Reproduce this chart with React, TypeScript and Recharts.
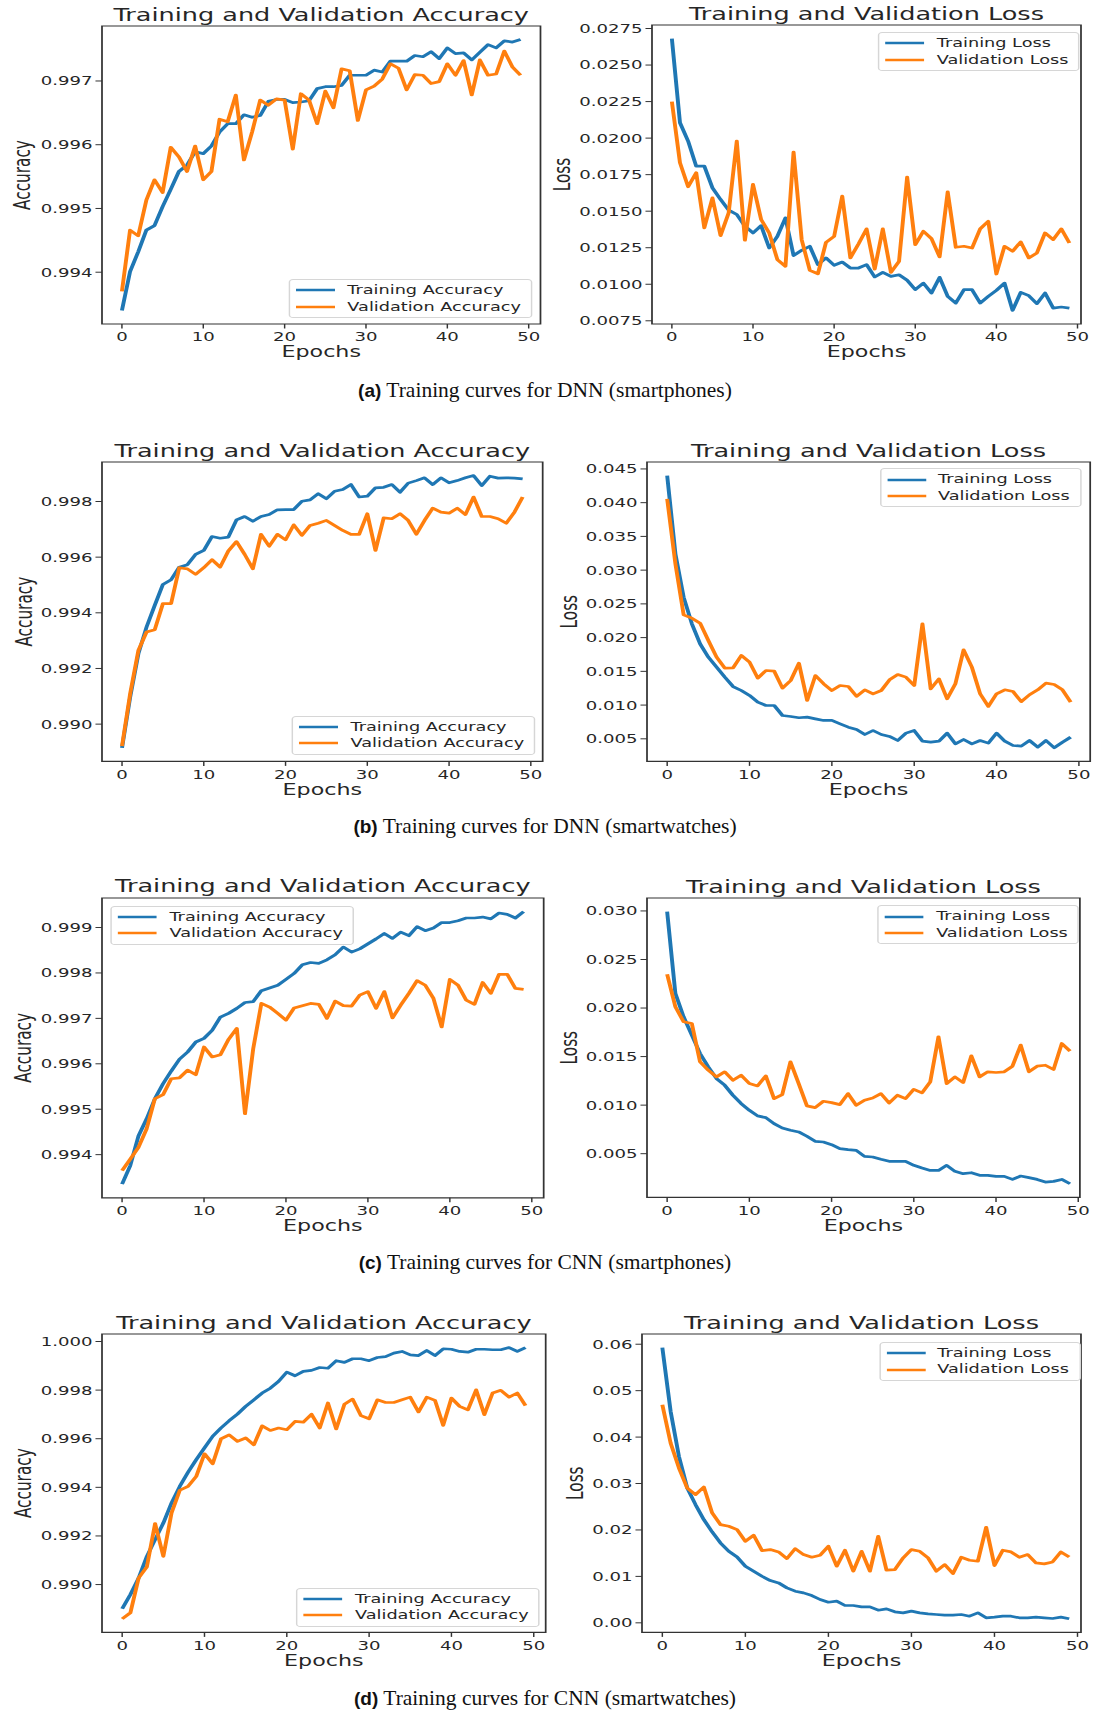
import React from "react";
import { LineChart, Line, XAxis, YAxis, ReferenceArea, Legend } from "recharts";

// The source figure is horizontally stretched, so every panel is drawn at natural
// width and scaled in x.
const S = 1.45;
const BLUE = "#1f77b4";
const ORANGE = "#ff7f0e";
const INK = "#262626";
const FONT = "'DejaVu Sans', Verdana, sans-serif";
const PAD_L = 112;
const PAD_R = 12;
const PAD_T = 30;
const PAD_B = 50;

const xTicks = [0, 10, 20, 30, 40, 50];

// (a) DNN, smartphones
const dnnPhoneAccTrain = [
  0.9934, 0.99401, 0.99432, 0.99466, 0.99473, 0.99503, 0.9953, 0.99558, 0.99568, 0.99589,
  0.99586, 0.99598, 0.9962, 0.99633, 0.99633, 0.99647, 0.99643, 0.99646, 0.99668, 0.99671,
  0.99671, 0.99666, 0.99667, 0.99669, 0.99688, 0.99691, 0.99691, 0.99693, 0.99709, 0.99709,
  0.99709, 0.99717, 0.99714, 0.99731, 0.99731, 0.99731, 0.9974, 0.99738, 0.99746, 0.99735,
  0.99752, 0.99743, 0.99744, 0.99733, 0.99745, 0.99757, 0.99752, 0.99763, 0.99761, 0.99765
];
const dnnPhoneAccVal = [
  0.9937, 0.99466, 0.99457, 0.99513, 0.99545, 0.99525, 0.99596, 0.99581, 0.99558, 0.99598,
  0.99545, 0.99558, 0.9964, 0.99636, 0.99678, 0.99576, 0.9962, 0.9967, 0.99662, 0.99672,
  0.9967, 0.99593, 0.9968, 0.9967, 0.99633, 0.99684, 0.99658, 0.99719, 0.99716, 0.99638,
  0.99686, 0.99692, 0.99703, 0.99727, 0.9972, 0.99686, 0.9971, 0.99709, 0.99696, 0.99699,
  0.99727, 0.99709, 0.99732, 0.99678, 0.99733, 0.99709, 0.99711, 0.99747, 0.99722, 0.99709
];
const dnnPhoneLossTrain = [
  0.02681, 0.02105, 0.0198, 0.01808, 0.01808, 0.0166, 0.0158, 0.01507, 0.01477, 0.01397,
  0.01351, 0.01401, 0.01248, 0.01328, 0.01454, 0.01196, 0.01232, 0.0126, 0.01134, 0.0118,
  0.0113, 0.01152, 0.01111, 0.01111, 0.01134, 0.0105, 0.01081, 0.01054, 0.01065, 0.01027,
  0.00963, 0.01008, 0.0094, 0.01047, 0.00917, 0.00871, 0.00963, 0.00963, 0.00871, 0.00917,
  0.00958, 0.01008, 0.00821, 0.00945, 0.00922, 0.00867, 0.0094, 0.00837, 0.00844, 0.00837
];
const dnnPhoneLossVal = [
  0.0225, 0.01831, 0.01667, 0.01763, 0.01386, 0.01591, 0.01333, 0.01488, 0.0198, 0.01301,
  0.01683, 0.01443, 0.01351, 0.01169, 0.01123, 0.01904, 0.01305, 0.01095, 0.01072, 0.01287,
  0.01328, 0.01603, 0.0118, 0.01276, 0.01379, 0.01104, 0.01379, 0.01081, 0.01157, 0.01733,
  0.01271, 0.01363, 0.01312, 0.01187, 0.01632, 0.01253, 0.0126, 0.01248, 0.01379, 0.01431,
  0.0107, 0.0126, 0.01226, 0.0129, 0.0118, 0.01214, 0.01351, 0.01305, 0.01379, 0.01283
];

// (b) DNN, smartwatches
const dnnWatchAccTrain = [
  0.98915, 0.99098, 0.99253, 0.99349, 0.99427, 0.99502, 0.99519, 0.99564, 0.99573, 0.9961,
  0.99624, 0.99674, 0.99668, 0.99672, 0.99734, 0.99746, 0.99729, 0.99746, 0.99753, 0.9977,
  0.99771, 0.99771, 0.99801, 0.99806, 0.99828, 0.9981, 0.99837, 0.99843, 0.99861, 0.99816,
  0.99819, 0.99849, 0.99851, 0.99861, 0.99833, 0.99866, 0.99875, 0.99885, 0.99861, 0.99885,
  0.99867, 0.99875, 0.99885, 0.99893, 0.99857, 0.99891, 0.99884, 0.99885, 0.99884, 0.99881
];
const dnnWatchAccVal = [
  0.98921, 0.9911, 0.99265, 0.99331, 0.99339, 0.99433, 0.99433, 0.99562, 0.99558, 0.99538,
  0.99562, 0.99591, 0.99564, 0.99622, 0.99656, 0.9961, 0.99558, 0.99682, 0.99639, 0.99682,
  0.99662, 0.99716, 0.99678, 0.99714, 0.99722, 0.99732, 0.99714, 0.99696, 0.99682, 0.99682,
  0.99756, 0.99624, 0.99741, 0.99738, 0.99756, 0.99732, 0.99682, 0.99732, 0.99776, 0.99762,
  0.99758, 0.99776, 0.99753, 0.99816, 0.99746, 0.99746, 0.99738, 0.99722, 0.99762, 0.99816
];
const dnnWatchLossTrain = [
  0.04401, 0.03241, 0.02599, 0.02204, 0.01907, 0.0171, 0.01562, 0.01414, 0.01275, 0.01216,
  0.01142, 0.01043, 0.00994, 0.00994, 0.00846, 0.00831, 0.00812, 0.00821, 0.00796, 0.00772,
  0.00772, 0.00722, 0.00673, 0.00638, 0.00564, 0.00623, 0.00564, 0.00535, 0.00475, 0.00584,
  0.00623, 0.00465, 0.0045, 0.00465, 0.00584, 0.00426, 0.0049, 0.00426, 0.00475, 0.00436,
  0.00584, 0.00465, 0.00401, 0.00391, 0.00475, 0.00377, 0.00475, 0.00367, 0.0045, 0.00525
];
const dnnWatchLossVal = [
  0.04056, 0.03093, 0.02337, 0.02288, 0.02214, 0.01957, 0.0171, 0.01547, 0.01552, 0.01735,
  0.01636, 0.01399, 0.01512, 0.01502, 0.01251, 0.01364, 0.01621, 0.01068, 0.01438, 0.01315,
  0.01216, 0.0129, 0.01275, 0.01128, 0.01226, 0.01167, 0.01216, 0.01374, 0.01453, 0.01414,
  0.0129, 0.02204, 0.01241, 0.01389, 0.01093, 0.01315, 0.01819, 0.01562, 0.01167, 0.0098,
  0.01167, 0.01226, 0.01201, 0.0105, 0.01153, 0.01226, 0.01325, 0.01305, 0.01226, 0.01043
];

// (c) CNN, smartphones
const cnnPhoneAccTrain = [
  0.99335, 0.99376, 0.99441, 0.99479, 0.99523, 0.99556, 0.99584, 0.9961, 0.99626, 0.99648,
  0.99656, 0.99674, 0.99703, 0.99711, 0.99722, 0.99735, 0.99737, 0.99761, 0.99767, 0.99773,
  0.99786, 0.99799, 0.99818, 0.99823, 0.99821, 0.99829, 0.9984, 0.99857, 0.99846, 0.99853,
  0.99864, 0.99875, 0.99887, 0.99876, 0.9989, 0.99882, 0.99902, 0.99893, 0.99899, 0.99911,
  0.99911, 0.99915, 0.99921, 0.99921, 0.99923, 0.99919, 0.99932, 0.99929, 0.99921, 0.99935
];
const cnnPhoneAccVal = [
  0.99365, 0.9939, 0.99416, 0.99457, 0.99523, 0.99532, 0.99567, 0.99569, 0.99586, 0.99576,
  0.99637, 0.99615, 0.9962, 0.99654, 0.99678, 0.9949, 0.99633, 0.99733, 0.99725, 0.99711,
  0.99696, 0.99723, 0.99728, 0.99733, 0.99731, 0.997, 0.99738, 0.99728, 0.99727, 0.99751,
  0.99759, 0.99722, 0.99759, 0.99701, 0.99729, 0.99755, 0.99783, 0.99773, 0.99744, 0.99681,
  0.99786, 0.99773, 0.9974, 0.99731, 0.99779, 0.99755, 0.99797, 0.99797, 0.99766, 0.99764
];
const cnnPhoneLossTrain = [
  0.02993, 0.02151, 0.0191, 0.01721, 0.01532, 0.01394, 0.01274, 0.01205, 0.01102, 0.01016,
  0.00947, 0.00889, 0.00871, 0.0081, 0.00765, 0.00741, 0.00724, 0.00679, 0.00627, 0.0062,
  0.00593, 0.00552, 0.00541, 0.00534, 0.00472, 0.00466, 0.00442, 0.00421, 0.00421, 0.00421,
  0.0038, 0.00352, 0.00328, 0.00328, 0.0038, 0.00318, 0.00294, 0.00304, 0.00277, 0.00277,
  0.00266, 0.00266, 0.00235, 0.0027, 0.00253, 0.00235, 0.00208, 0.00215, 0.00235, 0.0019
];
const cnnPhoneLossVal = [
  0.02347, 0.02013, 0.01858, 0.01841, 0.01446, 0.0136, 0.01291, 0.01343, 0.01256, 0.01308,
  0.01222, 0.01198, 0.01301, 0.01067, 0.01109, 0.01446, 0.01222, 0.00992, 0.00974, 0.0104,
  0.01026, 0.01005, 0.01119, 0.00998, 0.0105, 0.01074, 0.01119, 0.01022, 0.01102, 0.01067,
  0.01163, 0.01126, 0.01239, 0.01704, 0.01222, 0.01291, 0.01232, 0.01508, 0.01291, 0.01343,
  0.01336, 0.01343, 0.01401, 0.01618, 0.01343, 0.01401, 0.01411, 0.01367, 0.01635, 0.01556
];

// (d) CNN, smartwatches
const cnnWatchAccTrain = [
  0.989, 0.98959, 0.99027, 0.99116, 0.99185, 0.99253, 0.99336, 0.99404, 0.99462, 0.99514,
  0.99562, 0.9961, 0.99644, 0.99674, 0.99701, 0.99733, 0.9976, 0.99788, 0.99808, 0.99836,
  0.99874, 0.99859, 0.99877, 0.99881, 0.99893, 0.9989, 0.99921, 0.99914, 0.99929, 0.99929,
  0.99921, 0.99934, 0.99938, 0.99952, 0.99959, 0.99945, 0.99942, 0.99963, 0.99942, 0.9997,
  0.99968, 0.99959, 0.99956, 0.99968, 0.99968, 0.99966, 0.99966, 0.99975, 0.99959, 0.99975
];
const cnnWatchAccVal = [
  0.98859, 0.98884, 0.99027, 0.99073, 0.99251, 0.99116, 0.99295, 0.99388, 0.99404, 0.99445,
  0.99538, 0.99497, 0.99599, 0.99616, 0.99589, 0.99603, 0.99575, 0.99653, 0.99634, 0.99644,
  0.99637, 0.99671, 0.99668, 0.99701, 0.99644, 0.99747, 0.9964, 0.99742, 0.99763, 0.99695,
  0.99682, 0.9976, 0.99749, 0.99749, 0.9976, 0.99771, 0.9971, 0.99771, 0.99758, 0.99655,
  0.99767, 0.99733, 0.99719, 0.99801, 0.99699, 0.99788, 0.99799, 0.99771, 0.99788, 0.99736
];
const cnnWatchLossTrain = [
  0.05928, 0.04552, 0.03584, 0.02903, 0.02545, 0.02222, 0.01957, 0.0172, 0.01541, 0.01419,
  0.01219, 0.01111, 0.01004, 0.0091, 0.0086, 0.00753, 0.00681, 0.00645, 0.00588, 0.00502,
  0.00444, 0.00466, 0.00373, 0.00373, 0.00344, 0.00344, 0.00272, 0.00301, 0.00237, 0.00215,
  0.00251, 0.00215, 0.00194, 0.00179, 0.00165, 0.00165, 0.00179, 0.00143, 0.00215, 0.00108,
  0.00122, 0.00143, 0.00143, 0.00108, 0.00108, 0.00122, 0.00108, 0.00093, 0.00122, 0.00086
];
const cnnWatchLossVal = [
  0.04695, 0.03871, 0.03333, 0.02903, 0.0276, 0.02925, 0.02366, 0.02115, 0.02079, 0.02007,
  0.01756, 0.01885, 0.01556, 0.01577, 0.01527, 0.01384, 0.01599, 0.0147, 0.01412, 0.01455,
  0.01649, 0.01219, 0.01563, 0.01111, 0.01541, 0.01111, 0.01864, 0.01133, 0.01147, 0.01398,
  0.01577, 0.01541, 0.01398, 0.01111, 0.01254, 0.01061, 0.01412, 0.01348, 0.01326, 0.02057,
  0.01233, 0.01563, 0.01527, 0.01412, 0.0147, 0.0129, 0.01269, 0.01312, 0.01527, 0.01419
];

// y tick labels
const dnnPhoneAccTicks = [0.994, 0.995, 0.996, 0.997];
const dnnPhoneLossTicks = [0.0075, 0.01, 0.0125, 0.015, 0.0175, 0.02, 0.0225, 0.025, 0.0275];
const dnnWatchAccTicks = [0.99, 0.992, 0.994, 0.996, 0.998];
const dnnWatchLossTicks = [0.005, 0.01, 0.015, 0.02, 0.025, 0.03, 0.035, 0.04, 0.045];
const cnnPhoneAccTicks = [0.994, 0.995, 0.996, 0.997, 0.998, 0.999];
const cnnPhoneLossTicks = [0.005, 0.01, 0.015, 0.02, 0.025, 0.03];
const cnnWatchAccTicks = [0.99, 0.992, 0.994, 0.996, 0.998, 1.0];
const cnnWatchLossTicks = [0.0, 0.01, 0.02, 0.03, 0.04, 0.05, 0.06];

const captionTags = ["(a)", "(b)", "(c)", "(d)"];
const captionTexts = [
  "Training curves for DNN (smartphones)",
  "Training curves for DNN (smartwatches)",
  "Training curves for CNN (smartphones)",
  "Training curves for CNN (smartwatches)"
];

const labels = {
  acc: {
    title: "Training and Validation Accuracy",
    axis: "Accuracy",
    train: "Training Accuracy",
    val: "Validation Accuracy"
  },
  loss: {
    title: "Training and Validation Loss",
    axis: "Loss",
    train: "Training Loss",
    val: "Validation Loss"
  }
};

type Corner = { v: "top" | "bottom"; h: "left" | "right"; dx: number; dy: number };

interface PanelSpec {
  box: [number, number, number, number];
  xMax: number;
  kind: "acc" | "loss";
  train: number[];
  val: number[];
  ticks: number[];
  decimals: number;
  legend: Corner;
  yLabelGap: number;
}

const panels: PanelSpec[] = [
  { box: [101.5, 540, 26, 324], xMax: 51.45, kind: "acc", train: dnnPhoneAccTrain, val: dnnPhoneAccVal, ticks: dnnPhoneAccTicks, decimals: 3, legend: { v: "bottom", h: "right", dx: 8, dy: 6 }, yLabelGap: 79.5 },
  { box: [652, 1081, 25, 324], xMax: 50.43, kind: "loss", train: dnnPhoneLossTrain, val: dnnPhoneLossVal, ticks: dnnPhoneLossTicks, decimals: 4, legend: { v: "top", h: "right", dx: 1, dy: 7 }, yLabelGap: 90 },
  { box: [101.8, 542.5, 462.3, 761.7], xMax: 51.45, kind: "acc", train: dnnWatchAccTrain, val: dnnWatchAccVal, ticks: dnnWatchAccTicks, decimals: 3, legend: { v: "bottom", h: "right", dx: 7, dy: 7 }, yLabelGap: 78 },
  { box: [646.8, 1090, 462.3, 761.7], xMax: 51.37, kind: "loss", train: dnnWatchLossTrain, val: dnnWatchLossVal, ticks: dnnWatchLossTicks, decimals: 3, legend: { v: "top", h: "right", dx: 9, dy: 6 }, yLabelGap: 78 },
  { box: [101.8, 543.5, 897.5, 1197.3], xMax: 51.45, kind: "acc", train: cnnPhoneAccTrain, val: cnnPhoneAccVal, ticks: cnnPhoneAccTicks, decimals: 3, legend: { v: "top", h: "left", dx: 9, dy: 8 }, yLabelGap: 79 },
  { box: [646.8, 1079.7, 898.3, 1197.7], xMax: 50.2, kind: "loss", train: cnnPhoneLossTrain, val: cnnPhoneLossVal, ticks: cnnPhoneLossTicks, decimals: 3, legend: { v: "top", h: "right", dx: 0.5, dy: 7 }, yLabelGap: 78 },
  { box: [101.8, 545.5, 1334.3, 1632.7], xMax: 51.45, kind: "acc", train: cnnWatchAccTrain, val: cnnWatchAccVal, ticks: cnnWatchAccTicks, decimals: 3, legend: { v: "bottom", h: "right", dx: 5.5, dy: 6 }, yLabelGap: 79 },
  { box: [641.5, 1080.5, 1334.3, 1632.7], xMax: 50.42, kind: "loss", train: cnnWatchLossTrain, val: cnnWatchLossVal, ticks: cnnWatchLossTicks, decimals: 2, legend: { v: "top", h: "right", dx: 0.5, dy: 7.5 }, yLabelGap: 66.5 }
];

const captionCenters = [390, 826, 1262, 1698];

// matplotlib-style auto range: data span plus 5% on each side
const autoRange = (a: number[], b: number[]): [number, number] => {
  const lo = Math.min(...a, ...b);
  const hi = Math.max(...a, ...b);
  const m = (hi - lo) * 0.05;
  return [lo - m, hi + m];
};

const renderLegend = (props: any) => {
  const { payload } = props;
  return (
    <div
      style={{
        background: "rgba(255,255,255,0.85)",
        border: "1px solid #d6d6d6",
        borderRadius: 3,
        padding: "2px 7px 2px 4px",
        fontSize: 12.2,
        color: INK,
        whiteSpace: "nowrap"
      }}
    >
      {(payload || []).map((entry: any) => (
        <div key={entry.value} style={{ display: "flex", alignItems: "center", height: 16.5 }}>
          <svg width={27} height={6} style={{ display: "block" }}>
            <line x1={0} y1={3} x2={27} y2={3} stroke={entry.color} strokeWidth={2.7} />
          </svg>
          <span style={{ marginLeft: 8.3, lineHeight: "16.5px" }}>{entry.value}</span>
        </div>
      ))}
    </div>
  );
};

function Panel({ spec }: { spec: PanelSpec }) {
  const [L, R, T, B] = spec.box;
  const natW = (R - L + PAD_L + PAD_R) / S;
  const natH = B - T + PAD_T + PAD_B;
  const plotW = (R - L) / S;
  const text = labels[spec.kind];
  const yDomain = autoRange(spec.train, spec.val);
  const xMin = -2.45;
  const rows = spec.train.map((v, i) => ({ epoch: i, train: v, val: spec.val[i] }));

  const lg = spec.legend;
  const legendPos: React.CSSProperties = {};
  if (lg.h === "right") legendPos.right = (PAD_R + lg.dx) / S;
  else legendPos.left = (PAD_L + lg.dx) / S;
  if (lg.v === "top") legendPos.top = PAD_T + lg.dy;
  else legendPos.bottom = PAD_B + lg.dy;

  return (
    <div
      style={{
        position: "absolute",
        left: L - PAD_L,
        top: T - PAD_T,
        width: natW,
        height: natH,
        transform: `scaleX(${S})`,
        transformOrigin: "0 0"
      }}
    >
      <div
        style={{
          position: "absolute",
          left: PAD_L / S,
          width: plotW,
          top: PAD_T - 21.5,
          textAlign: "center",
          fontSize: 17.6,
          lineHeight: "20px",
          color: INK,
          whiteSpace: "nowrap"
        }}
      >
        {text.title}
      </div>
      <LineChart
        width={natW}
        height={natH}
        data={rows}
        margin={{ top: PAD_T, right: PAD_R / S, bottom: 0, left: 0 }}
      >
        <XAxis
          dataKey="epoch"
          type="number"
          domain={[xMin, spec.xMax]}
          ticks={xTicks}
          interval={0}
          allowDataOverflow
          height={PAD_B}
          axisLine={false}
          tickSize={4.5}
          tickMargin={4}
          tickLine={{ stroke: "#333" }}
          tick={{ fontSize: 12.5, fill: INK }}
          label={{ value: "Epochs", position: "insideBottom", offset: PAD_B - 33.5, fontSize: 15.3, fill: INK }}
        />
        <YAxis
          type="number"
          domain={yDomain}
          ticks={spec.ticks}
          interval={0}
          allowDataOverflow
          width={PAD_L / S}
          axisLine={false}
          tickSize={4.5}
          tickMargin={2}
          tickLine={{ stroke: "#333" }}
          tick={{ fontSize: 12.5, fill: INK }}
          tickFormatter={(v: number) => v.toFixed(spec.decimals)}
          label={{
            value: text.axis,
            angle: -90,
            position: "insideLeft",
            offset: (PAD_L - spec.yLabelGap) / S,
            fontSize: 15.3,
            fill: INK,
            style: { textAnchor: "middle" }
          }}
        />
        <ReferenceArea
          x1={xMin}
          x2={spec.xMax}
          y1={yDomain[0]}
          y2={yDomain[1]}
          fill="none"
          stroke="#333"
          strokeWidth={1.2}
          ifOverflow="visible"
        />
        <Line
          type="linear"
          dataKey="train"
          name={text.train}
          stroke={BLUE}
          strokeWidth={2.7}
          strokeLinejoin="round"
          dot={false}
          isAnimationActive={false}
        />
        <Line
          type="linear"
          dataKey="val"
          name={text.val}
          stroke={ORANGE}
          strokeWidth={2.7}
          strokeLinejoin="round"
          dot={false}
          isAnimationActive={false}
        />
        <Legend
          layout="vertical"
          align="center"
          verticalAlign="middle"
          content={renderLegend}
          wrapperStyle={legendPos}
        />
      </LineChart>
    </div>
  );
}

export default function App() {
  return (
    <div
      style={{
        position: "absolute",
        left: 0,
        top: 0,
        width: 1101,
        height: 1710,
        background: "#fff",
        overflow: "hidden",
        fontFamily: FONT
      }}
    >
      {panels.map((p, i) => (
        <Panel key={i} spec={p} />
      ))}
      {captionTags.map((tag, i) => (
        <div
          key={tag}
          style={{
            position: "absolute",
            left: 0,
            width: 1090,
            top: captionCenters[i] - 12,
            textAlign: "center",
            lineHeight: "24px",
            whiteSpace: "nowrap",
            color: "#111"
          }}
        >
          <span style={{ fontFamily: "'Liberation Sans', Arial, sans-serif", fontWeight: 700, fontSize: 19 }}>
            {tag}
          </span>
          <span style={{ fontFamily: "'Liberation Serif', 'Times New Roman', serif", fontSize: 21.5 }}>
            {" " + captionTexts[i]}
          </span>
        </div>
      ))}
    </div>
  );
}
